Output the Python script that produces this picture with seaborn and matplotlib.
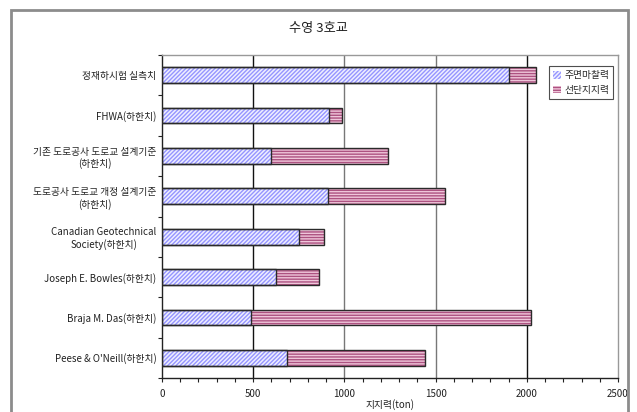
import matplotlib
matplotlib.use("Agg")
import matplotlib.pyplot as plt
from matplotlib.patches import Rectangle, Patch
from matplotlib.ticker import MultipleLocator, FixedLocator
import numpy as np
import pandas as pd
import seaborn as sns

# Bearing capacity of test pile (ton), per method
methods = [
    "정재하시험 실측치",
    "FHWA(하한치)",
    "기존 도로공사 도로교 설계기준\n(하한치)",
    "도로공사 도로교 개정 설계기준\n(하한치)",
    "Canadian Geotechnical\nSociety(하한치)",
    "Joseph E. Bowles(하한치)",
    "Braja M. Das(하한치)",
    "Peese & O'Neill(하한치)",
]
skin_friction = [1900, 915, 595, 908, 753, 623, 487, 683]
end_bearing = [150, 70, 645, 645, 133, 238, 1535, 758]
series_names = ["주면마찰력", "선단지지력"]
title = "수영 3호교"
xlabel = "지지력(ton)"

sns.set_theme(style="white")
plt.rcParams["font.family"] = ["Noto Sans CJK KR", "DejaVu Sans"]
plt.rcParams["hatch.linewidth"] = 1.0

df = pd.DataFrame({
    "method": methods,
    "skin": skin_friction,
    "total": np.array(skin_friction) + np.array(end_bearing),
})

fig = plt.figure(figsize=(6.37, 4.12), dpi=100)
ax = fig.add_axes([0.2543, 0.0825, 0.7159, 0.784])

blue_face, blue_hatch = "#eeeeff", "#9595ff"
pink_face, pink_hatch = "#efc6da", "#ad5281"
blue_pat, pink_pat = "////////", "------"

# stacked horizontal bars: total underneath, skin friction on top
sns.barplot(data=df, x="total", y="method", color=pink_face, width=0.39,
            saturation=1, ax=ax, zorder=3)
n_pink = len(ax.patches)
sns.barplot(data=df, x="skin", y="method", color=blue_face, width=0.39,
            saturation=1, ax=ax, zorder=3)

for i, p in enumerate(list(ax.patches)):
    pink = i < n_pink
    p.set_hatch(pink_pat if pink else blue_pat)
    p.set_edgecolor(pink_hatch if pink else blue_hatch)
    p.set_facecolor(pink_face if pink else blue_face)
    p.set_linewidth(0)
    ax.add_patch(Rectangle((p.get_x(), p.get_y()), p.get_width(), p.get_height(),
                           fill=False, edgecolor="#2a2a2a", linewidth=1.0, zorder=4))

ax.set_xlim(0, 2500)
ax.xaxis.set_major_locator(MultipleLocator(500))
ax.xaxis.set_minor_locator(MultipleLocator(100))
ax.tick_params(axis="x", which="both", direction="out", length=3, width=0.8,
               colors="#222222", labelsize=7, pad=5, bottom=True)

n = len(methods)
ax.set_ylim(n - 0.5, -0.5)
ax.yaxis.set_minor_locator(FixedLocator(np.arange(-0.5, n, 1.0)))
ax.tick_params(axis="y", which="major", length=0, labelsize=7, pad=4)
ax.tick_params(axis="y", which="minor", direction="out", length=3, width=0.8,
               color="#222222", left=True)
for lab in ax.get_yticklabels():
    lab.set_multialignment("center")
    lab.set_color("#222222")

ax.grid(False)
for v, c in zip([500, 1000, 1500, 2000], ["#111111", "#777777", "#777777", "#111111"]):
    ax.axvline(v, color=c, linewidth=1.0, zorder=1)

ax.set_xlabel(xlabel, fontsize=7, labelpad=0, color="#222222")
ax.set_ylabel("")
fig.text(0.5, 0.932, title, ha="center", va="center", fontsize=9.5, color="#222222")

for side in ["left", "bottom"]:
    ax.spines[side].set_color("#222222")
    ax.spines[side].set_linewidth(1.0)
for side in ["top", "right"]:
    ax.spines[side].set_color("#999999")
    ax.spines[side].set_linewidth(1.0)

handles = [
    Patch(facecolor=blue_face, edgecolor=blue_hatch, hatch=blue_pat, linewidth=0),
    Patch(facecolor=pink_face, edgecolor=pink_hatch, hatch=pink_pat, linewidth=0),
]
leg = ax.legend(handles, series_names, loc="upper right", bbox_to_anchor=(0.99, 0.965),
                fontsize=7, frameon=True, fancybox=False, handlelength=0.8,
                handleheight=0.8, handletextpad=0.4, borderpad=0.4, labelspacing=0.5,
                borderaxespad=0)
leg.get_frame().set_edgecolor("#222222")
leg.get_frame().set_linewidth(0.8)

# outer chart frame
fig.patches.append(Rectangle((0.0165, -0.1), 0.9695, 1.076, transform=fig.transFigure,
                             fill=False, edgecolor="#8c8c8c", linewidth=2.0))

fig.savefig("out.png", dpi=100)
